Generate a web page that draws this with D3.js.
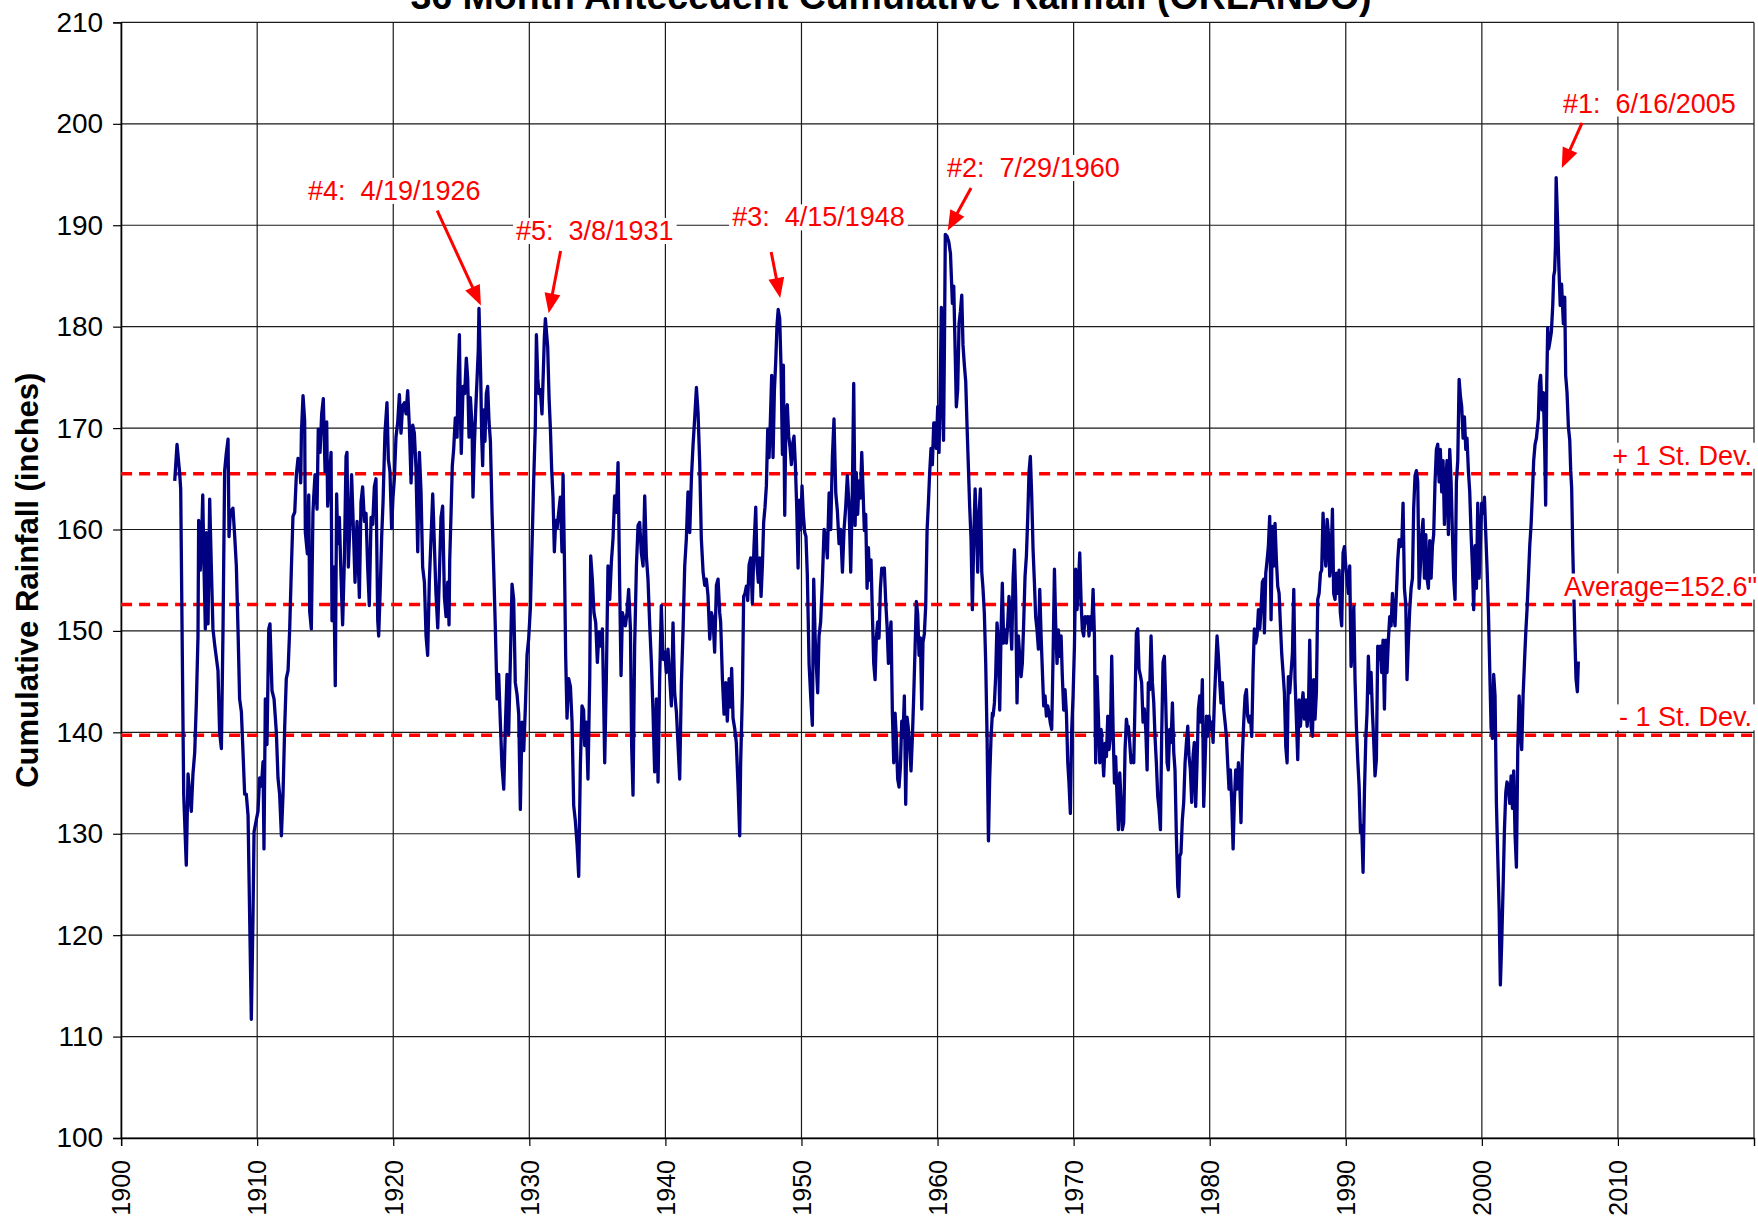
<!DOCTYPE html>
<html>
<head>
<meta charset="utf-8">
<script src="https://cdn.jsdelivr.net/npm/d3@7"></script>
<style>
  html, body { margin: 0; padding: 0; background: #ffffff; }
  svg { display: block; font-family: "Liberation Sans", Arial, Helvetica, sans-serif; }
</style>
</head>
<body>
<svg id="chart" width="1758" height="1228"></svg>
<script>
// 36-month antecedent cumulative rainfall at Orlando: [decimal year, inches]
const rainfallRecord = [
  [1903.94,164.8],[1904.11,168.4],[1904.30,165.6],[1904.38,164.0],[1904.48,150.2],[1904.60,133.9],[1904.79,126.9],[1904.92,135.9],
  [1905.04,133.9],[1905.16,132.2],[1905.28,135.9],[1905.41,138.0],[1905.53,142.9],[1905.65,149.4],[1905.70,160.9],[1905.82,156.0],
  [1905.90,158.4],[1906.00,163.4],[1906.09,156.4],[1906.19,150.2],[1906.26,159.7],[1906.39,150.7],[1906.51,163.0],[1906.63,156.4],
  [1906.75,150.2],[1906.88,148.6],[1907.12,146.1],[1907.24,140.0],[1907.37,138.4],[1907.49,150.2],[1907.61,165.8],[1907.73,167.5],
  [1907.86,168.9],[1907.93,159.3],[1908.03,161.7],[1908.22,162.1],[1908.35,159.3],[1908.47,156.4],[1908.59,150.2],[1908.71,143.3],
  [1908.84,142.0],[1908.96,138.0],[1909.08,133.9],[1909.20,133.9],[1909.33,131.8],[1909.45,121.6],[1909.57,111.7],[1909.69,121.6],
  [1909.77,130.2],[1909.94,131.4],[1910.06,132.2],[1910.18,135.5],[1910.31,134.7],[1910.43,137.1],[1910.50,128.5],[1910.60,143.3],
  [1910.72,138.8],[1910.85,150.2],[1910.94,150.7],[1911.09,144.1],[1911.24,143.3],[1911.41,140.0],[1911.53,135.5],[1911.65,133.9],
  [1911.78,129.8],[1911.90,133.9],[1912.02,140.4],[1912.14,145.3],[1912.27,146.1],[1912.39,150.2],[1912.51,156.0],[1912.63,161.3],
  [1912.76,161.7],[1912.88,165.4],[1913.00,167.0],[1913.12,166.6],[1913.20,164.6],[1913.25,169.5],[1913.37,173.2],[1913.49,170.7],
  [1913.54,159.7],[1913.69,157.6],[1913.79,163.4],[1913.86,151.9],[1913.98,150.2],[1914.10,161.7],
  [1914.15,163.1],[1914.25,165.4],[1914.40,162.0],[1914.49,169.9],[1914.62,167.6],[1914.74,171.4],[1914.86,172.9],[1914.99,165.7],
  [1915.11,170.6],[1915.18,162.3],[1915.30,165.0],[1915.43,167.6],[1915.50,151.0],[1915.62,156.3],[1915.74,144.6],[1915.84,163.5],
  [1915.92,158.6],[1916.04,161.2],[1916.16,155.5],[1916.28,150.6],[1916.41,157.1],[1916.53,167.2],[1916.60,167.6],[1916.70,156.3],
  [1916.85,161.6],[1916.94,165.4],[1917.07,160.1],[1917.19,154.8],[1917.34,160.8],[1917.51,153.3],[1917.63,162.7],[1917.75,164.2],
  [1917.88,160.8],[1918.00,161.6],[1918.12,156.3],[1918.24,152.5],[1918.37,161.2],[1918.49,160.5],[1918.61,164.2],[1918.73,165.0],
  [1918.86,151.0],[1918.93,149.5],[1919.05,154.4],[1919.15,159.3],[1919.25,162.7],[1919.39,169.5],[1919.54,172.5],[1919.64,166.9],
  [1919.76,165.7],[1919.88,160.1],[1919.98,163.1],[1920.08,165.0],[1920.20,169.1],[1920.33,170.6],[1920.45,173.3],[1920.57,169.5],
  [1920.69,172.2],[1920.82,172.5],[1920.94,171.4],[1921.06,173.7],[1921.18,170.3],[1921.31,164.6],[1921.43,170.3],[1921.55,169.5],
  [1921.67,166.1],[1921.80,157.8],[1921.92,167.6],[1922.04,163.8],[1922.16,156.3],[1922.29,154.8],[1922.41,149.5],[1922.53,147.6],
  [1922.65,154.8],[1922.78,159.3],[1922.90,163.5],[1923.02,158.6],[1923.14,153.7],[1923.27,150.3],[1923.39,155.5],[1923.51,161.2],
  [1923.63,162.3],[1923.76,153.3],[1923.88,151.4],[1924.00,154.8],[1924.10,150.6],
  [1924.15,157.0],[1924.25,161.7],[1924.34,166.3],[1924.44,167.9],[1924.56,171.0],[1924.69,169.1],[1924.76,174.9],[1924.86,179.2],
  [1924.93,171.8],[1925.00,167.5],[1925.13,174.1],[1925.25,173.4],[1925.37,176.9],[1925.47,174.9],[1925.57,169.1],[1925.67,173.0],
  [1925.79,170.2],[1925.86,163.2],[1925.96,168.3],[1926.06,171.8],[1926.16,174.9],[1926.25,177.7],[1926.30,181.8],[1926.43,174.9],
  [1926.50,169.1],[1926.57,166.3],[1926.65,171.8],[1926.74,168.7],[1926.84,173.4],[1926.94,174.1],[1927.04,170.6],[1927.14,168.7],
  [1927.26,161.7],[1927.38,156.2],[1927.50,150.4],[1927.63,143.3],[1927.75,145.7],[1927.87,141.0],[1927.99,136.7],[1928.12,134.4],
  [1928.24,140.6],[1928.36,145.7],[1928.48,139.8],[1928.61,147.3],[1928.73,154.6],[1928.85,153.1],[1928.97,144.9],[1929.10,143.7],
  [1929.22,141.8],[1929.34,132.4],[1929.46,141.0],[1929.59,138.2],[1929.71,142.5],[1929.83,147.6],[1929.95,149.2],[1930.08,152.3],
  [1930.20,158.5],[1930.32,164.8],[1930.44,170.2],[1930.52,179.2],[1930.62,174.9],[1930.71,173.4],[1930.81,173.8],[1930.93,171.4],
  [1931.06,176.9],[1931.10,178.8],[1931.18,180.8],[1931.35,178.0],[1931.45,173.0],[1931.55,169.9],[1931.64,166.0],[1931.74,163.2],
  [1931.84,157.8],[1931.94,160.9],[1932.04,160.1],[1932.16,161.7],[1932.28,163.2],[1932.40,157.8],[1932.48,165.4],[1932.58,157.0],
  [1932.67,147.6],[1932.77,141.4],[1932.89,145.3],[1933.02,144.5],[1933.14,141.0],[1933.26,132.8],[1933.38,131.3],[1933.51,128.9],
  [1933.63,125.8],[1933.75,136.7],[1933.87,142.6],[1933.99,142.2],
  [1934.07,138.7],[1934.19,141.0],[1934.31,135.4],[1934.44,145.3],[1934.51,157.4],[1934.63,155.1],[1934.75,151.8],[1934.88,150.8],
  [1935.00,146.9],[1935.12,149.9],[1935.24,148.5],[1935.37,150.2],[1935.47,142.6],[1935.54,137.0],[1935.66,145.3],[1935.78,156.4],
  [1935.91,153.1],[1936.03,156.8],[1936.15,159.1],[1936.27,163.3],[1936.40,161.7],[1936.52,166.6],[1936.64,154.5],[1936.74,145.6],
  [1936.84,151.8],[1936.94,151.2],[1937.06,150.5],[1937.18,151.8],[1937.30,154.1],[1937.43,150.2],[1937.52,138.7],[1937.62,133.8],
  [1937.74,148.5],[1937.87,156.4],[1937.99,160.4],[1938.11,160.7],[1938.23,157.7],[1938.36,156.4],[1938.48,163.3],[1938.60,157.4],
  [1938.72,155.1],[1938.85,150.5],[1938.97,146.9],[1939.09,142.0],[1939.21,136.1],[1939.34,143.3],[1939.46,135.1],[1939.58,145.3],
  [1939.70,152.5],[1939.83,147.2],[1939.95,147.9],[1940.07,145.9],[1940.19,148.2],[1940.32,145.3],[1940.44,142.6],[1940.56,150.8],
  [1940.68,143.9],[1940.81,142.0],[1940.93,138.7],[1941.05,135.4],[1941.17,144.6],[1941.30,150.2],[1941.42,156.4],[1941.54,159.1],
  [1941.66,163.7],[1941.79,159.7],[1941.91,165.0],[1942.03,168.3],[1942.15,170.9],[1942.28,174.0],[1942.40,171.5],[1942.52,166.6],
  [1942.64,159.1],[1942.77,155.8],[1942.89,154.5],[1943.01,155.1],[1943.13,153.5],[1943.26,149.2],[1943.38,151.8],[1943.50,151.2],
  [1943.62,147.9],[1943.75,154.5],[1943.87,155.1],[1943.99,151.8],
  [1944.06,150.9],[1944.19,145.3],[1944.31,141.8],[1944.43,144.9],[1944.55,141.1],[1944.68,145.3],[1944.80,142.5],[1944.87,146.3],
  [1944.97,141.4],[1945.09,140.4],[1945.21,139.0],[1945.34,134.7],[1945.46,129.8],[1945.53,136.9],[1945.66,143.9],[1945.75,153.4],
  [1945.85,153.7],[1945.95,154.4],[1946.05,153.0],[1946.15,156.5],[1946.27,157.2],[1946.39,152.7],[1946.51,158.3],[1946.64,162.2],
  [1946.73,156.5],[1946.83,154.8],[1946.93,157.2],[1947.03,153.4],[1947.13,156.5],[1947.22,160.7],[1947.32,162.2],[1947.42,164.3],
  [1947.52,169.9],[1947.62,167.1],[1947.71,170.6],[1947.81,175.2],[1947.91,167.1],[1948.01,173.7],[1948.11,176.6],[1948.20,180.1],
  [1948.29,181.7],[1948.40,180.8],[1948.50,175.9],[1948.60,167.4],[1948.67,176.2],[1948.77,161.4],[1948.86,171.6],[1948.96,172.3],
  [1949.06,169.2],[1949.16,168.1],[1949.26,166.4],[1949.36,168.5],[1949.45,169.2],[1949.55,166.4],[1949.65,162.2],[1949.75,156.2],
  [1949.84,162.9],[1949.94,160.0],[1950.04,164.3],[1950.14,161.4],[1950.24,159.7],[1950.33,159.3],[1950.43,155.5],[1950.56,146.7],
  [1950.68,143.5],[1950.80,140.7],[1950.90,155.1],[1951.00,149.5],[1951.09,146.7],[1951.19,143.9],[1951.29,149.5],[1951.41,150.9],
  [1951.54,155.1],[1951.66,160.0],[1951.78,159.3],[1951.90,157.2],[1952.03,163.6],[1952.15,160.0],[1952.27,167.1],[1952.39,170.9],
  [1952.52,163.6],[1952.64,161.8],[1952.76,158.6],[1952.88,160.0],[1953.01,155.8],[1953.13,160.0],[1953.25,162.2],[1953.37,165.3],
  [1953.50,162.2],[1953.62,155.8],[1953.74,163.9],[1953.84,174.4],[1953.94,160.4],
  [1954.03,165.6],[1954.13,161.5],[1954.23,164.8],[1954.33,163.1],[1954.43,167.6],[1954.52,164.0],[1954.62,159.9],[1954.72,161.5],
  [1954.82,154.2],[1954.92,158.2],[1955.01,155.0],[1955.11,157.0],[1955.21,151.7],[1955.31,146.8],[1955.41,145.2],[1955.50,149.3],
  [1955.60,150.9],[1955.70,149.3],[1955.80,154.2],[1955.90,156.2],[1955.99,155.8],[1956.09,156.2],[1956.19,152.9],[1956.29,150.5],
  [1956.39,146.8],[1956.48,149.3],[1956.58,150.9],[1956.68,141.9],[1956.78,137.0],[1956.88,141.9],[1956.97,139.5],[1957.07,135.4],
  [1957.17,134.6],[1957.27,136.6],[1957.37,141.1],[1957.46,139.5],[1957.56,143.6],[1957.66,132.9],[1957.76,141.5],[1957.86,140.3],
  [1957.95,138.7],[1958.05,136.2],[1958.15,139.5],[1958.25,143.6],[1958.35,148.4],[1958.44,152.9],[1958.54,151.7],[1958.64,147.6],
  [1958.74,149.3],[1958.84,142.3],[1958.93,148.9],[1959.03,149.7],[1959.13,152.5],[1959.23,159.9],[1959.33,162.7],[1959.42,165.6],
  [1959.52,168.0],[1959.62,166.4],[1959.72,170.5],[1959.82,170.5],[1959.91,168.0],[1960.01,172.1],[1960.11,167.6],[1960.21,175.4],
  [1960.28,181.9],[1960.36,172.9],[1960.44,168.8],[1960.51,178.7],[1960.57,189.1],[1960.70,188.9],[1960.82,188.4],[1960.95,187.2],
  [1961.09,182.3],[1961.19,184.0],[1961.29,177.8],[1961.38,172.1],[1961.48,173.8],[1961.58,180.3],[1961.68,181.5],[1961.78,183.1],
  [1961.87,178.2],[1961.97,176.2],[1962.07,174.6],[1962.17,170.1],[1962.27,166.0],[1962.36,162.3],[1962.46,159.1],[1962.56,152.1],
  [1962.66,159.1],[1962.76,164.0],[1962.85,160.7],[1962.95,155.8],[1963.05,161.5],[1963.15,164.0],[1963.25,155.8],[1963.34,154.2],
  [1963.44,151.7],[1963.54,146.8],[1963.64,139.5],[1963.74,129.3],[1963.83,135.4],[1963.93,139.5],[1964.03,141.9],
  [1964.08,141.6],[1964.18,142.9],[1964.27,145.5],[1964.37,150.8],[1964.47,148.8],[1964.57,142.2],[1964.67,150.1],[1964.76,154.7],
  [1964.86,148.8],[1964.96,150.1],[1965.06,148.8],[1965.16,150.8],[1965.25,153.4],[1965.35,151.4],[1965.45,148.2],[1965.55,155.1],
  [1965.65,158.0],[1965.74,153.4],[1965.84,142.9],[1965.94,149.5],[1966.04,147.5],[1966.14,145.5],[1966.23,146.8],[1966.33,150.8],
  [1966.43,155.4],[1966.53,157.4],[1966.63,161.3],[1966.72,165.6],[1966.82,167.2],[1966.92,163.3],[1967.02,158.0],[1967.12,154.7],
  [1967.21,151.4],[1967.31,150.1],[1967.41,148.2],[1967.51,154.1],[1967.61,149.5],[1967.70,146.2],[1967.80,142.6],[1967.90,143.6],
  [1968.00,141.6],[1968.10,142.6],[1968.19,141.9],[1968.29,140.9],[1968.39,140.3],[1968.49,147.5],[1968.59,156.1],[1968.68,150.8],
  [1968.78,146.8],[1968.88,150.1],[1968.98,147.5],[1969.08,149.5],[1969.17,145.5],[1969.27,142.2],[1969.37,144.2],[1969.47,141.9],
  [1969.57,137.0],[1969.66,135.0],[1969.76,132.0],[1969.86,140.3],[1969.96,143.6],[1970.06,148.5],[1970.15,156.1],[1970.25,152.1],
  [1970.35,154.4],[1970.45,157.7],[1970.55,152.8],[1970.64,150.1],[1970.74,149.5],[1970.84,151.4],[1970.94,150.8],[1971.04,151.4],
  [1971.13,149.5],[1971.23,151.4],[1971.33,150.1],[1971.43,154.1],[1971.53,149.5],[1971.62,137.0],[1971.72,145.5],[1971.82,141.6],
  [1971.92,137.0],[1972.02,140.3],[1972.11,138.3],[1972.21,135.7],[1972.31,138.9],[1972.41,137.6],[1972.51,141.6],[1972.60,138.3],
  [1972.70,139.6],[1972.80,147.5],[1972.90,140.3],[1973.00,135.0],[1973.09,137.6],[1973.19,133.7],[1973.29,130.4],[1973.39,136.0],
  [1973.49,133.0],[1973.58,130.4],[1973.68,131.1],[1973.78,138.3],[1973.88,141.3],[1973.97,140.3],
  [1974.02,140.6],[1974.12,139.0],[1974.22,137.0],[1974.32,137.7],[1974.42,137.0],[1974.51,142.9],[1974.61,149.8],[1974.71,150.2],
  [1974.81,146.2],[1974.91,145.6],[1975.00,144.9],[1975.10,141.0],[1975.20,142.3],[1975.30,140.3],[1975.40,136.3],[1975.49,144.9],
  [1975.59,144.2],[1975.69,149.5],[1975.79,144.9],[1975.89,142.9],[1975.98,139.6],[1976.08,137.0],[1976.18,133.7],[1976.28,132.4],
  [1976.38,130.4],[1976.47,139.6],[1976.57,146.9],[1976.67,147.5],[1976.77,142.9],[1976.87,137.0],[1976.96,136.3],[1977.06,140.3],
  [1977.16,139.0],[1977.26,142.9],[1977.36,138.0],[1977.45,136.3],[1977.55,129.8],[1977.65,124.8],[1977.72,123.8],[1977.80,127.8],
  [1977.89,128.1],[1977.99,131.4],[1978.09,133.1],[1978.19,137.0],[1978.29,139.0],[1978.39,140.6],[1978.48,137.7],[1978.58,136.3],
  [1978.68,133.1],[1978.78,137.7],[1978.87,139.0],[1978.97,132.7],[1979.07,137.0],[1979.17,142.3],[1979.27,143.6],[1979.36,141.0],
  [1979.46,145.2],[1979.56,132.7],[1979.66,137.0],[1979.76,141.6],[1979.85,139.6],[1979.95,141.6],[1980.05,140.3],[1980.15,141.0],
  [1980.25,139.0],[1980.34,142.9],[1980.44,146.2],[1980.54,149.5],[1980.64,147.5],[1980.74,144.9],[1980.83,142.9],[1980.93,144.9],
  [1981.03,142.3],[1981.13,141.0],[1981.23,139.6],[1981.32,137.0],[1981.42,134.4],[1981.52,136.3],[1981.62,133.1],[1981.72,128.5],
  [1981.81,133.1],[1981.91,136.3],[1982.01,134.4],[1982.11,137.0],[1982.21,135.0],[1982.30,131.1],[1982.40,137.7],[1982.50,141.0],
  [1982.60,143.6],[1982.70,144.2],[1982.79,141.6],[1982.89,141.0],[1982.99,141.6],[1983.09,139.6],[1983.19,146.2],[1983.28,150.2],
  [1983.38,148.8],[1983.48,149.5],[1983.58,152.1],[1983.68,150.2],[1983.77,152.1],[1983.87,154.8],[1983.97,155.1],
  [1984.02,149.8],[1984.12,155.7],[1984.22,157.0],[1984.31,158.3],[1984.41,161.3],[1984.51,151.1],[1984.61,160.3],[1984.71,156.4],
  [1984.80,160.6],[1984.90,157.0],[1985.00,154.4],[1985.10,153.7],[1985.20,150.5],[1985.29,147.8],[1985.39,145.9],[1985.49,143.9],
  [1985.59,138.6],[1985.69,137.0],[1985.78,145.5],[1985.88,143.9],[1985.98,145.9],[1986.08,147.8],[1986.18,154.1],[1986.27,145.2],
  [1986.37,141.3],[1986.47,137.3],[1986.57,143.2],[1986.67,140.6],[1986.76,142.6],[1986.86,143.9],[1986.96,141.3],[1987.06,143.2],
  [1987.16,140.6],[1987.25,141.9],[1987.35,149.1],[1987.45,140.6],[1987.55,139.6],[1987.64,145.2],[1987.74,141.3],[1987.84,143.9],
  [1987.94,153.1],[1988.04,153.7],[1988.14,155.7],[1988.23,156.0],[1988.33,161.6],[1988.43,158.3],[1988.53,156.4],[1988.63,161.0],
  [1988.72,159.7],[1988.82,155.4],[1988.92,157.0],[1989.02,162.0],[1989.11,153.7],[1989.21,153.1],[1989.31,155.7],[1989.41,153.7],
  [1989.51,156.0],[1989.60,151.8],[1989.70,150.5],[1989.80,157.7],[1989.90,158.3],[1990.00,156.4],[1990.10,155.1],[1990.19,153.7],
  [1990.29,156.4],[1990.39,146.5],[1990.49,148.5],[1990.59,152.4],[1990.68,145.2],[1990.78,140.6],[1990.88,137.3],[1990.98,134.7],
  [1991.08,130.1],[1991.17,130.8],[1991.27,126.2],[1991.37,134.0],[1991.47,139.3],[1991.56,141.9],[1991.66,147.5],[1991.76,143.9],
  [1991.86,145.9],[1991.96,141.9],[1992.05,139.3],[1992.15,135.7],[1992.25,137.3],[1992.35,148.5],[1992.45,147.2],[1992.54,148.5],
  [1992.64,145.9],[1992.74,149.1],[1992.84,142.3],[1992.94,149.1],[1993.03,145.9],[1993.13,149.1],[1993.23,151.4],[1993.33,150.5],
  [1993.43,153.7],[1993.52,151.8],[1993.62,150.5],[1993.72,153.7],[1993.82,157.0],[1993.92,159.0],[1994.01,158.3],
  [1994.11,158.4],[1994.21,162.6],[1994.31,154.2],[1994.41,152.6],[1994.50,145.2],[1994.60,148.9],[1994.70,152.1],[1994.80,154.2],
  [1994.90,155.2],[1994.99,162.1],[1995.09,165.3],[1995.19,165.8],[1995.29,164.7],[1995.39,154.2],[1995.48,156.3],[1995.58,159.5],
  [1995.68,161.0],[1995.78,155.2],[1995.88,159.5],[1995.97,155.2],[1996.07,154.2],[1996.17,158.9],[1996.27,155.2],[1996.37,158.4],
  [1996.46,159.5],[1996.56,164.7],[1996.66,167.9],[1996.76,168.4],[1996.86,164.7],[1996.95,167.9],[1997.05,163.7],[1997.15,166.8],
  [1997.25,160.5],[1997.35,164.7],[1997.44,166.8],[1997.54,159.5],[1997.64,167.9],[1997.74,164.7],[1997.84,159.5],[1997.93,155.2],
  [1998.03,153.1],[1998.13,164.7],[1998.23,166.8],[1998.33,174.8],[1998.42,173.2],[1998.52,172.1],[1998.62,169.0],[1998.72,171.1],
  [1998.82,167.9],[1998.91,169.0],[1999.01,165.8],[1999.11,163.7],[1999.21,159.5],[1999.31,156.3],[1999.40,152.1],[1999.50,158.4],
  [1999.60,154.2],[1999.70,162.6],[1999.80,155.2],[1999.89,158.4],[1999.99,162.6],[2000.09,161.6],[2000.19,163.2],[2000.29,159.5],
  [2000.38,156.3],[2000.48,152.1],[2000.58,146.2],[2000.68,140.4],[2000.78,139.4],[2000.87,145.7],[2000.97,143.6],[2001.07,133.0],
  [2001.17,127.7],[2001.27,122.5],[2001.36,115.1],[2001.46,119.3],[2001.56,124.6],[2001.66,130.4],[2001.76,134.1],[2001.85,135.1],
  [2001.95,134.6],[2002.05,133.0],[2002.15,135.7],[2002.25,132.5],[2002.34,136.2],[2002.44,129.9],[2002.54,126.7],[2002.64,138.3],
  [2002.74,143.6],[2002.83,140.4],[2002.93,138.3],[2003.03,143.6],[2003.13,146.8],[2003.23,149.9],[2003.32,152.1],[2003.42,155.2],
  [2003.52,158.4],[2003.62,160.5],[2003.72,163.7],[2003.81,166.8],[2003.91,168.4],[2004.01,169.0],
  [2004.15,170.9],[2004.23,174.4],[2004.32,175.2],[2004.42,171.8],[2004.52,173.5],[2004.62,167.9],[2004.69,162.4],[2004.77,174.4],
  [2004.84,179.9],[2004.91,177.8],[2005.01,178.6],[2005.11,179.5],[2005.21,182.1],[2005.28,185.0],[2005.35,185.5],[2005.41,188.0],
  [2005.46,194.7],[2005.56,190.6],[2005.66,185.9],[2005.76,182.1],[2005.86,184.2],[2005.99,180.3],[2006.09,182.9],[2006.16,175.2],
  [2006.26,173.5],[2006.36,170.1],[2006.46,168.8],[2006.53,165.8],[2006.60,164.1],[2006.68,158.1],[2006.77,153.0],[2006.85,148.7],
  [2006.92,145.3],[2007.02,144.0],[2007.09,147.0]
];

// Axis ticks
const yTicks = [100, 110, 120, 130, 140, 150, 160, 170, 180, 190, 200, 210];
const xGridYears = [1900, 1910, 1920, 1930, 1940, 1950, 1960, 1970, 1980, 1990, 2000, 2010, 2020];
const xTickLabels = ["1900", "1910", "1920", "1930", "1940", "1950", "1960", "1970", "1980", "1990", "2000", "2010"];

// Reference levels (mean and +/- one standard deviation)
const refValues = [165.5, 152.6, 139.7];
const refLabels = ["+ 1 St. Dev.", "Average=152.6\"", "- 1 St. Dev."];

// Ranked wettest 36-month periods
const peakRanks = ["#1", "#2", "#3", "#4", "#5"];
const peakDates = ["6/16/2005", "7/29/1960", "4/15/1948", "4/19/1926", "3/8/1931"];

// Callout placement relative to each peak: label start, arrow tail, arrow tip (px)
const calloutLayout = [
  { label: [7, -65],       tail: [26, -54.6],    tip: [5.7, -9.6] },
  { label: [1.7, -57.4],   tail: [25.7, -46.4],  tip: [2.4, -3.8] },
  { label: [-46, -83],     tail: [-7, -57.5],    tip: [2, -11.5] },
  { label: [-171, -108.5], tail: [-41.7, -97.7], tip: [2, -3] },
  { label: [-29.4, -78.6], tail: [15.2, -67.6],  tip: [3.3, -5.2] }
];

const W = 1758, H = 1228;
const plot = { left: 121.1, right: 1754, top: 22.4, bottom: 1138 };
const RED = "#ff0000";
const NAVY = "#000080";

const svg = d3.select("#chart");
svg.append("rect").attr("width", W).attr("height", H).attr("fill", "#fff");

const x = d3.scaleLinear().domain([1900, 2020]).range([plot.left, plot.right]);
const y = d3.scaleLinear().domain([100, 210]).range([plot.bottom, plot.top]);

// Gridlines
const grid = svg.append("g").attr("class", "grid");
grid.selectAll("line.h").data(yTicks).join("line")
  .attr("x1", plot.left).attr("x2", plot.right)
  .attr("y1", d => y(d)).attr("y2", d => y(d))
  .attr("stroke", "#1a1a1a").attr("stroke-width", 1.2);
grid.selectAll("line.v").data(xGridYears).join("line")
  .attr("x1", d => x(d)).attr("x2", d => x(d))
  .attr("y1", plot.top).attr("y2", plot.bottom)
  .attr("stroke", "#1a1a1a").attr("stroke-width", 1.2);

// Y axis
const yAxis = svg.append("g")
  .attr("transform", `translate(${plot.left},0)`)
  .call(d3.axisLeft(y).tickValues(yTicks).tickSize(8).tickPadding(10).tickFormat(d3.format("d")));
yAxis.select(".domain").attr("stroke", "#000").attr("stroke-width", 1.4);
yAxis.selectAll(".tick line").attr("stroke", "#000").attr("stroke-width", 1.2);
yAxis.selectAll(".tick text")
  .attr("fill", "#000")
  .style("font-size", "28px")
  .style("font-family", "'Liberation Sans', Arial, sans-serif");

// X axis
const xAxis = svg.append("g")
  .attr("transform", `translate(0,${plot.bottom})`)
  .call(d3.axisBottom(x).tickValues(xTickLabels.map(Number)).tickSize(8).tickFormat(d3.format("d")));
xAxis.select(".domain").attr("stroke", "#000").attr("stroke-width", 1.4);
xAxis.selectAll(".tick line").attr("stroke", "#000").attr("stroke-width", 1.2);
xAxis.selectAll(".tick text")
  .attr("transform", "rotate(-90)")
  .attr("x", -22).attr("y", 0).attr("dy", "0.35em")
  .attr("fill", "#000")
  .style("text-anchor", "end")
  .style("font-size", "25px")
  .style("font-family", "'Liberation Sans', Arial, sans-serif");

// Axis title
svg.append("text")
  .attr("transform", `translate(38,${(plot.top + plot.bottom) / 2}) rotate(-90)`)
  .attr("text-anchor", "middle")
  .style("font-size", "31px").style("font-weight", "bold")
  .text("Cumulative Rainfall (inches)");

// Chart title (sits at the very top edge of the page)
svg.append("text")
  .attr("x", 891).attr("y", 9)
  .attr("text-anchor", "middle")
  .style("font-size", "37.5px").style("font-weight", "bold")
  .text("36 Month Antecedent Cumulative Rainfall (ORLANDO)");

// Reference lines
svg.append("g").selectAll("line").data(refValues).join("line")
  .attr("x1", plot.left).attr("x2", plot.right)
  .attr("y1", d => y(d)).attr("y2", d => y(d))
  .attr("stroke", RED).attr("stroke-width", 3.5)
  .attr("stroke-dasharray", "11,7");

// Rainfall series
const line = d3.line().x(d => x(d[0])).y(d => y(d[1]));
svg.append("path")
  .datum(rainfallRecord)
  .attr("d", line)
  .attr("fill", "none")
  .attr("stroke", NAVY)
  .attr("stroke-width", 3.3)
  .attr("stroke-linejoin", "round");

// Text with white box behind it
function boxedText(g, tx, ty, str, anchor) {
  const t = g.append("text")
    .attr("x", tx).attr("y", ty)
    .attr("text-anchor", anchor)
    .attr("fill", RED)
    .style("font-size", "27px")
    .style("white-space", "pre")
    .text(str);
  const bb = t.node().getBBox();
  g.insert("rect", "text")
    .attr("x", bb.x - 3).attr("y", bb.y + 2)
    .attr("width", bb.width + 6).attr("height", bb.height - 4)
    .attr("fill", "#fff");
  return t;
}

// Reference-line labels
const refLabelRight = [1752, 1757, 1752];
refValues.forEach((v, i) => {
  const g = svg.append("g");
  boxedText(g, refLabelRight[i], y(v) - 9, refLabels[i], "end");
});

// Peak callouts
function decimalYear(dateStr) {
  const [m, d, yr] = dateStr.split("/").map(Number);
  const start = Date.UTC(yr, 0, 1);
  const days = (Date.UTC(yr + 1, 0, 1) - start) / 864e5;
  return yr + ((Date.UTC(yr, m - 1, d) - start) / 864e5) / days;
}

function drawArrow(g, x1, y1, x2, y2) {
  const L = 20, hw = 8;
  const dx = x2 - x1, dy = y2 - y1, len = Math.hypot(dx, dy);
  const ux = dx / len, uy = dy / len;
  const bx = x2 - ux * L, by = y2 - uy * L;
  g.append("line")
    .attr("x1", x1).attr("y1", y1).attr("x2", bx + ux * 2).attr("y2", by + uy * 2)
    .attr("stroke", RED).attr("stroke-width", 3);
  g.append("path")
    .attr("d", `M${x2},${y2}L${bx - uy * hw},${by + ux * hw}L${bx + uy * hw},${by - ux * hw}Z`)
    .attr("fill", RED);
}

peakDates.forEach((ds, i) => {
  const t = decimalYear(ds);
  const near = rainfallRecord.filter(d => Math.abs(d[0] - t) < 0.08);
  const peak = d3.greatest(near, d => d[1]);
  const px = x(t), py = y(peak[1]);
  const lay = calloutLayout[i];
  const g = svg.append("g");
  boxedText(g, px + lay.label[0], py + lay.label[1], `${peakRanks[i]}:  ${ds}`, "start");
  drawArrow(g, px + lay.tail[0], py + lay.tail[1], px + lay.tip[0], py + lay.tip[1]);
});
</script>
</body>
</html>
